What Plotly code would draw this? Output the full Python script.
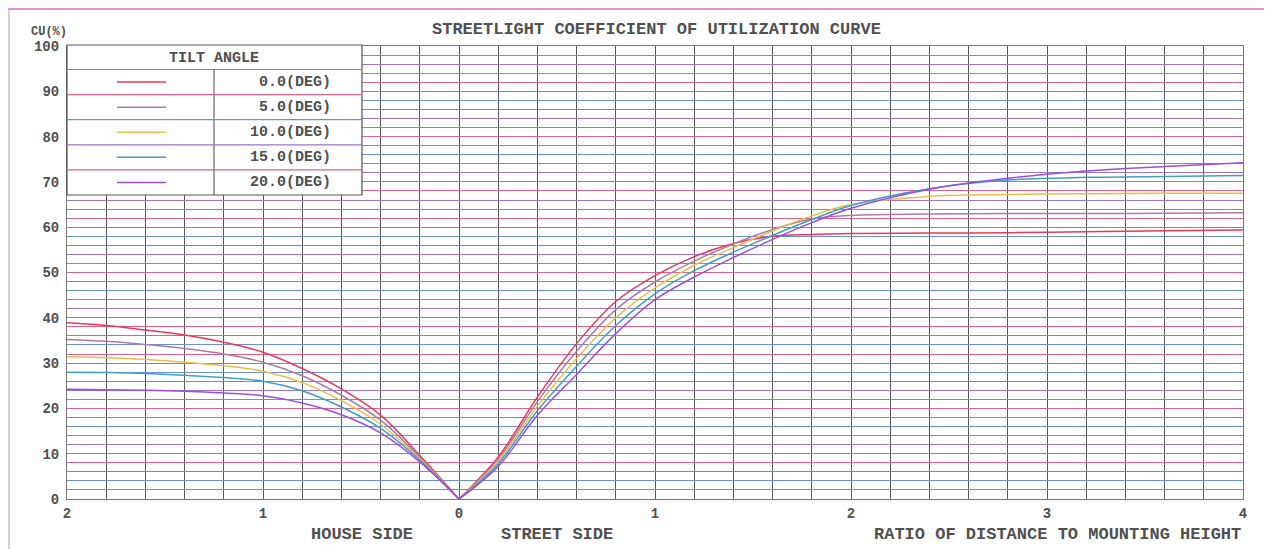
import plotly.graph_objects as go

# ---------------- data ----------------
tilt_labels = ["0.0(DEG)", "5.0(DEG)", "10.0(DEG)", "15.0(DEG)", "20.0(DEG)"]
series_colors = ["#e8385c", "#b07aa8", "#e8be4a", "#3f9fc8", "#9a4ee0"]

# house side (distance ratio, plotted as negative x)
x_house = [-2.0, -1.8, -1.6, -1.4, -1.2, -1.0, -0.8, -0.6, -0.4, -0.2, 0.0]
cu_house_0 = [38.9, 38.3, 37.3, 36.2, 34.6, 32.4, 28.8, 24.3, 18.5, 9.6, 0.0]
cu_house_5 = [35.2, 34.8, 34.1, 33.2, 32.0, 30.2, 27.2, 22.9, 17.4, 9.2, 0.0]
cu_house_10 = [31.4, 31.2, 30.8, 30.2, 29.4, 28.2, 25.7, 21.7, 16.5, 8.9, 0.0]
cu_house_15 = [28.0, 27.9, 27.7, 27.3, 26.8, 26.0, 23.9, 20.3, 15.6, 8.6, 0.0]
cu_house_20 = [24.2, 24.1, 24.0, 23.8, 23.4, 22.8, 21.2, 18.6, 14.6, 8.2, 0.0]

# street side
x_street = [0.0, 0.2, 0.4, 0.6, 0.8, 1.0, 1.2, 1.4, 1.6, 1.8, 2.0, 2.4, 2.8, 3.2, 3.6, 4.0]
cu_street_0 = [0.0, 9.3, 22.5, 34.3, 43.6, 49.3, 53.5, 56.4, 58.0, 58.4, 58.6, 58.7, 58.8, 59.0, 59.2, 59.4]
cu_street_5 = [0.0, 8.8, 21.5, 32.6, 41.8, 47.9, 52.5, 56.3, 59.5, 61.8, 62.6, 62.9, 63.0, 63.0, 63.1, 63.2]
cu_street_10 = [0.0, 8.3, 20.5, 31.0, 40.0, 46.6, 51.6, 55.5, 59.2, 62.5, 65.0, 66.8, 67.2, 67.4, 67.5, 67.5]
cu_street_15 = [0.0, 7.8, 19.5, 29.3, 38.3, 45.3, 50.4, 54.5, 58.2, 61.7, 64.8, 68.5, 70.4, 71.0, 71.2, 71.4]
cu_street_20 = [0.0, 7.2, 18.5, 27.5, 36.5, 44.0, 49.0, 53.3, 57.3, 61.0, 64.2, 68.4, 70.8, 72.4, 73.4, 74.2]

house_series = [cu_house_0, cu_house_5, cu_house_10, cu_house_15, cu_house_20]
street_series = [cu_street_0, cu_street_5, cu_street_10, cu_street_15, cu_street_20]

x_tickvals = [-2, -1, 0, 1, 2, 3, 4]
x_ticktext = ["2", "1", "0", "1", "2", "3", "4"]
y_tickvals = [0, 10, 20, 30, 40, 50, 60, 70, 80, 90, 100]

title_text = "STREETLIGHT COEFFICIENT OF UTILIZATION CURVE"
y_label = "CU(%)"
house_label = "HOUSE SIDE"
street_label = "STREET SIDE"
ratio_label = "RATIO OF DISTANCE TO MOUNTING HEIGHT"
legend_title = "TILT ANGLE"

# ---------------- figure ----------------
FONT = "Liberation Mono, DejaVu Sans Mono, monospace"
TXT = "#505050"
OFF = 8  # page body margin
W, H = 1272 - OFF, 549 - OFF
ML, MR, MT, MB = 67 - OFF, 29, 46 - OFF, 50
PW, PH = W - ML - MR, H - MT - MB

def px_x(px):
    return (px - OFF - ML) / PW

def px_y(py):
    return 1 - (py - OFF - MT) / PH

fig = go.Figure()
for i in range(len(tilt_labels)):
    for xs, ys in ((x_house, house_series[i]), (x_street, street_series[i])):
        fig.add_trace(go.Scatter(
            x=xs, y=ys, mode="lines", showlegend=False,
            line=dict(color=series_colors[i], width=1.5, shape="spline", smoothing=1.0),
            hoverinfo="x+y", name=tilt_labels[i]))

grid_cycle = ["#9c74c8", "#e06088", "#6a8fd8"]
# invisible helper traces so the overlay grid axes get drawn
fig.add_trace(go.Scatter(x=[None], y=[None], yaxis="y2", showlegend=False, hoverinfo="skip"))
fig.add_trace(go.Scatter(x=[None], y=[None], yaxis="y3", showlegend=False, hoverinfo="skip"))

fig.update_layout(
    width=W, height=H,
    margin=dict(l=ML, r=MR, t=MT, b=MB),
    paper_bgcolor="white", plot_bgcolor="white",
    font=dict(family=FONT, color=TXT, size=14, weight="bold"),
    showlegend=False,
    xaxis=dict(range=[-2, 4], tickvals=x_tickvals, ticktext=x_ticktext,
               showgrid=False, zeroline=False,
               showline=True, mirror=True, linecolor="#777", linewidth=1,
               ticks="", ticklabelstandoff=1,
               tickfont=dict(family=FONT, size=14, color=TXT, weight="bold"),
               minor=dict(dtick=0.2, tick0=0, showgrid=True, gridcolor="#5a5a5a", gridwidth=1)),
    yaxis=dict(range=[0, 100], tickvals=y_tickvals, showgrid=False, zeroline=False,
               showline=True, mirror=True, linecolor="#777", linewidth=1,
               ticks="", ticklabelstandoff=4,
               tickfont=dict(family=FONT, size=14, color=TXT, weight="bold"),
               minor=dict(dtick=6, tick0=0, showgrid=True, gridcolor=grid_cycle[0], gridwidth=1.2)),
    yaxis2=dict(range=[0, 100], overlaying="y", showticklabels=False, zeroline=False,
                showline=False, tick0=2, dtick=6, showgrid=True,
                gridcolor=grid_cycle[1], gridwidth=1.2),
    yaxis3=dict(range=[0, 100], overlaying="y", showticklabels=False, zeroline=False,
                showline=False, tick0=4, dtick=6, showgrid=True,
                gridcolor=grid_cycle[2], gridwidth=1.2),
)

def ann(text, x, y, size, xanchor="center"):
    return dict(text=text, x=px_x(x), y=px_y(y), xref="paper", yref="paper",
                xanchor=xanchor, yanchor="middle", showarrow=False, font=dict(size=size))

anns = [
    ann(title_text, 656, 29, 17),
    ann(y_label, 49, 32, 12),
    ann(house_label, 362, 534, 17),
    ann(street_label, 557, 534, 17),
    ann(ratio_label, 1243, 534, 17, xanchor="right"),
]

# legend table
box_l, box_r, box_t, box_b = 67, 362, 45, 195
div_x = 214
head_b = 69.5
row_h = (box_b - head_b) / len(tilt_labels)
shapes = []
shapes.append(dict(type="rect", xref="paper", yref="paper",
                   x0=px_x(box_l), x1=px_x(box_r), y0=px_y(box_b), y1=px_y(box_t),
                   fillcolor="white", line=dict(color="#555", width=1.2), layer="above"))
shapes.append(dict(type="line", xref="paper", yref="paper",
                   x0=px_x(box_l), x1=px_x(box_r), y0=px_y(head_b), y1=px_y(head_b),
                   line=dict(color="#5a8fc0", width=1.2), layer="above"))
shapes.append(dict(type="line", xref="paper", yref="paper",
                   x0=px_x(div_x), x1=px_x(div_x), y0=px_y(box_b), y1=px_y(head_b),
                   line=dict(color="#444", width=1), layer="above"))
anns.append(ann(legend_title, (box_l + box_r) / 2, (box_t + head_b) / 2 + 1, 15))
for i, lab in enumerate(tilt_labels):
    top = head_b + i * row_h
    mid = top + row_h / 2
    if i > 0:
        shapes.append(dict(type="line", xref="paper", yref="paper",
                           x0=px_x(box_l), x1=px_x(box_r), y0=px_y(top), y1=px_y(top),
                           line=dict(color=grid_cycle[i % 3], width=1.2), layer="above"))
    shapes.append(dict(type="line", xref="paper", yref="paper",
                       x0=px_x(117), x1=px_x(166), y0=px_y(mid), y1=px_y(mid),
                       line=dict(color=series_colors[i], width=1.5), layer="above"))
    anns.append(ann(lab, 333, mid, 15, xanchor="right"))

# scan border lines
shapes.append(dict(type="line", xref="paper", yref="paper",
                   x0=px_x(8), x1=px_x(1272), y0=px_y(9), y1=px_y(9),
                   line=dict(color="#d070c8", width=1.5)))
shapes.append(dict(type="line", xref="paper", yref="paper",
                   x0=px_x(9), x1=px_x(9), y0=px_y(9), y1=px_y(549),
                   line=dict(color="#aaaaaa", width=1)))

fig.update_layout(annotations=anns, shapes=shapes)
fig.write_html("out.html")
